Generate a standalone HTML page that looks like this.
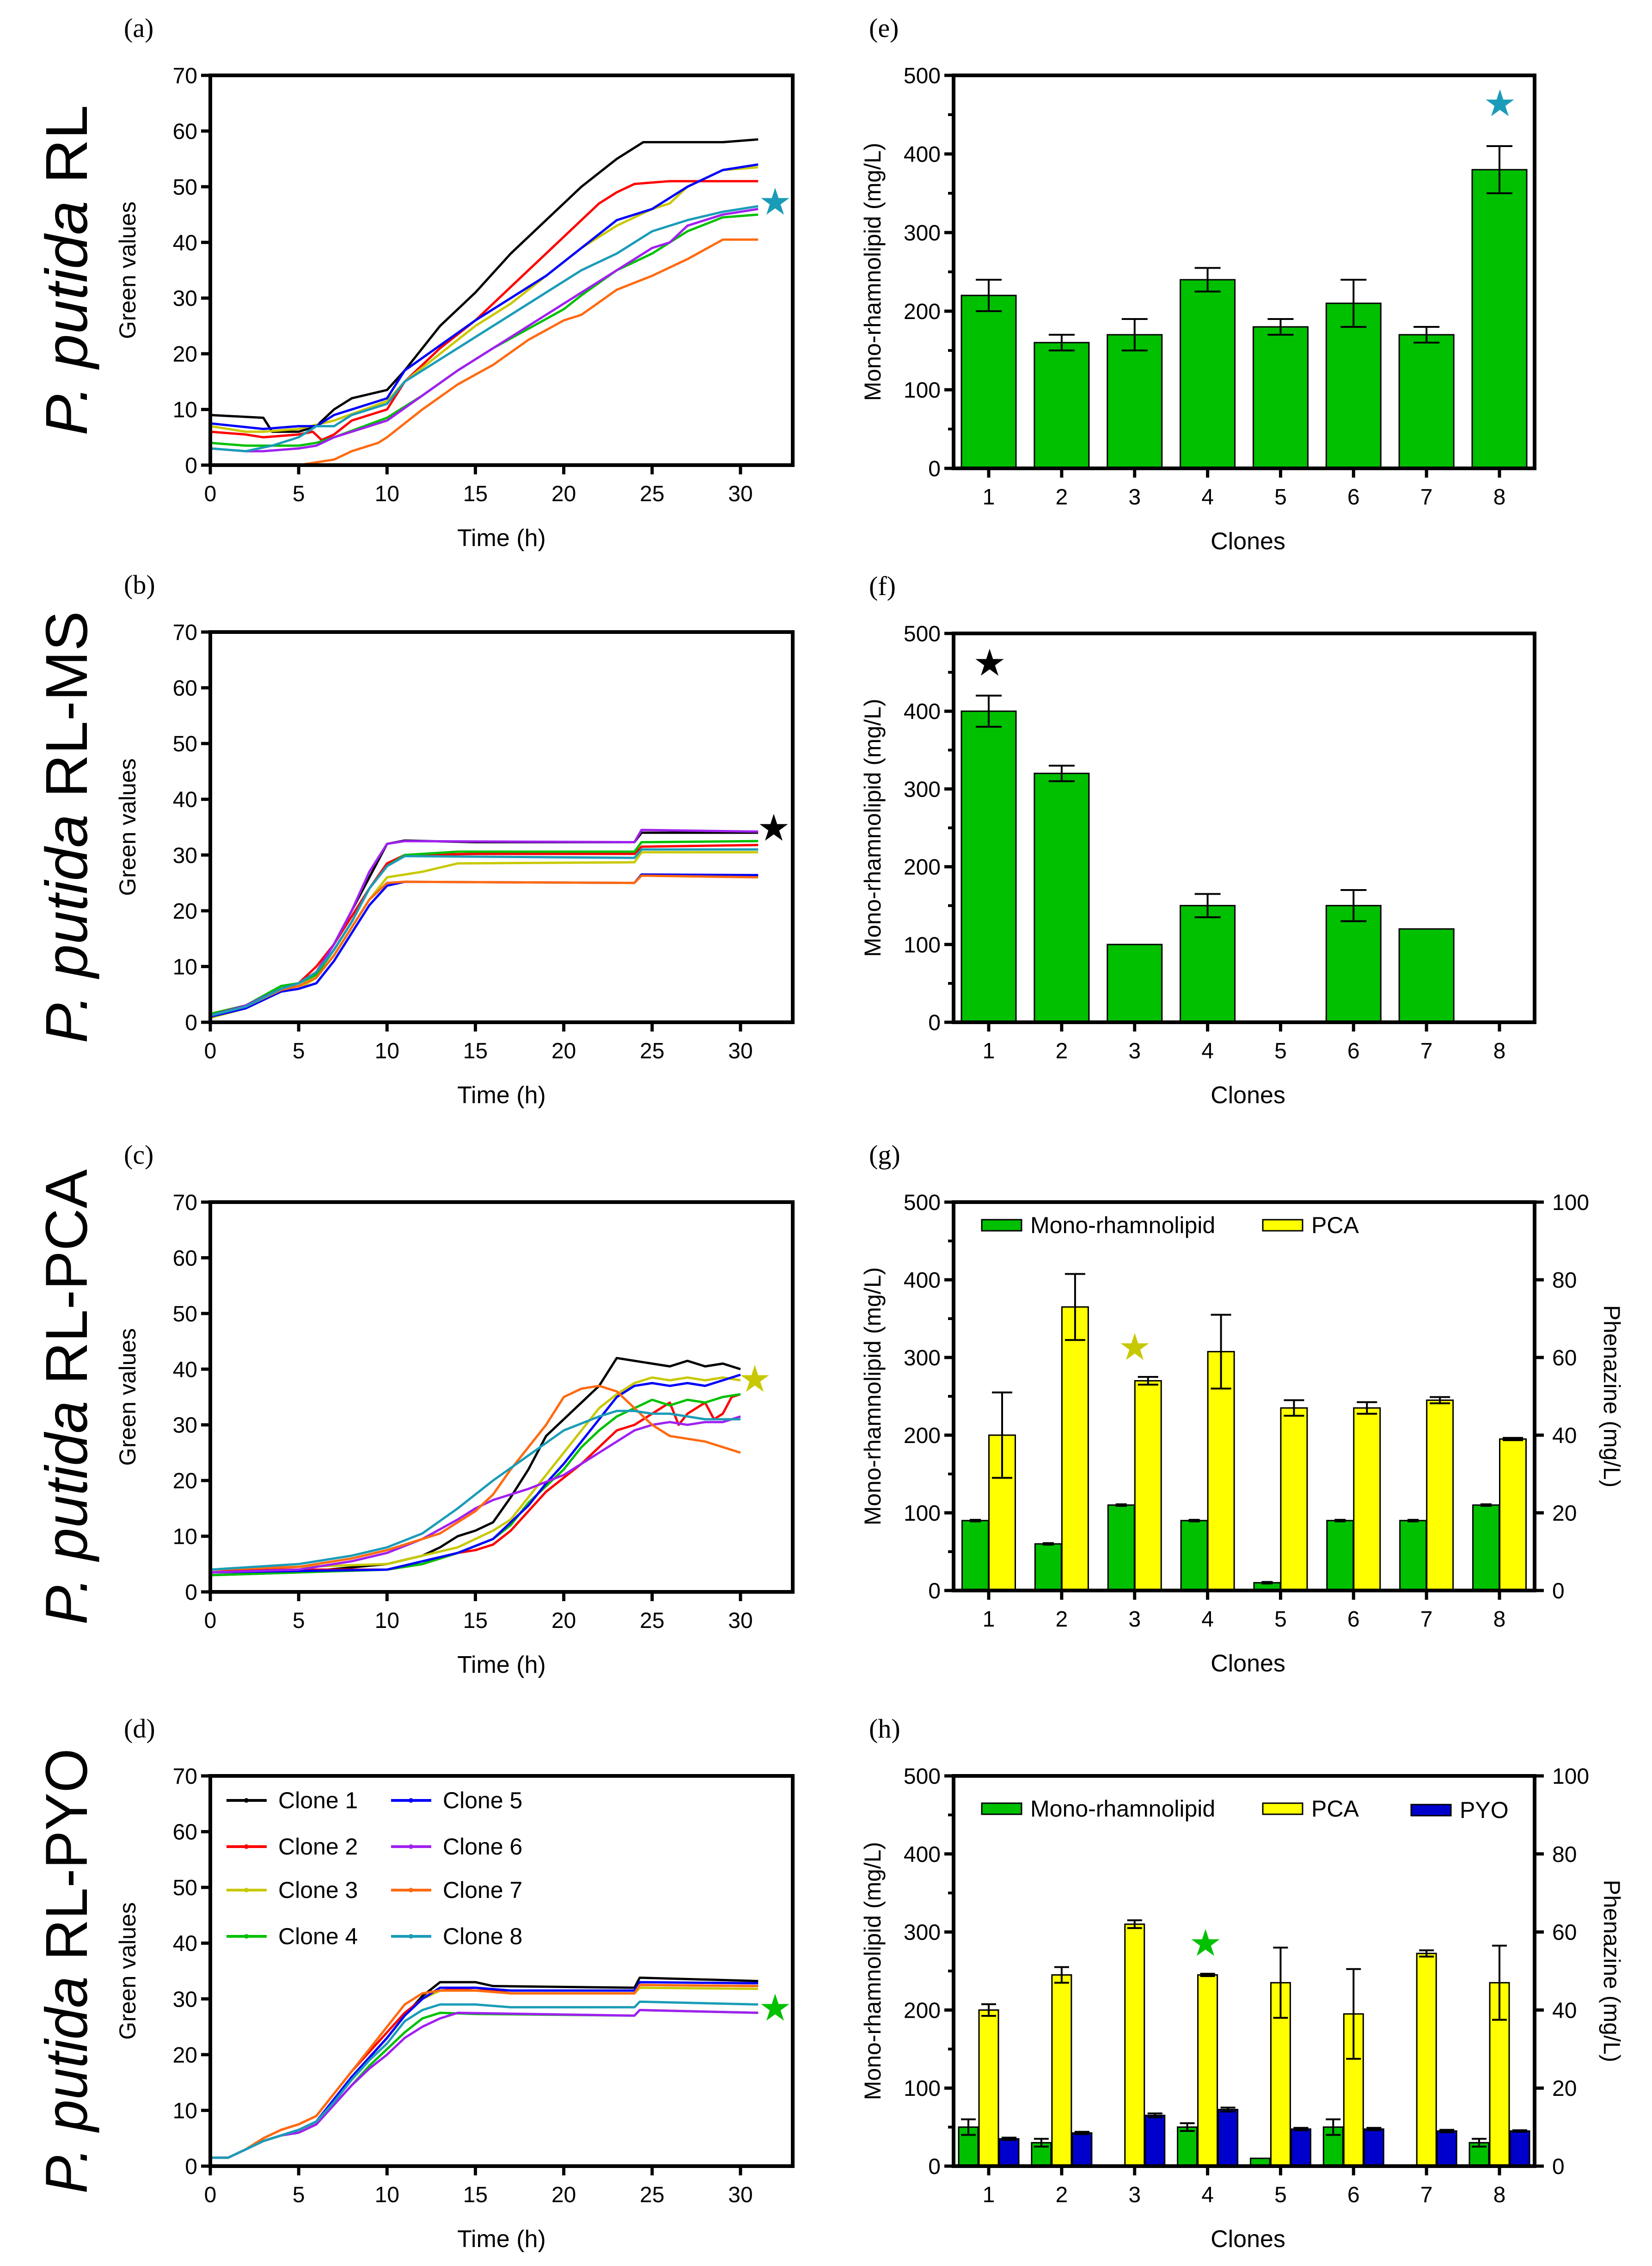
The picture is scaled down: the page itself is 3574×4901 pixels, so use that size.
<!DOCTYPE html>
<html><head><meta charset="utf-8"><style>
html,body{margin:0;padding:0;background:#fff;}
svg{display:block;font-family:"Liberation Sans",sans-serif;}
</style></head><body>
<svg id="fig" width="3574" height="4901" viewBox="0 0 3574 4901" xmlns="http://www.w3.org/2000/svg"></svg>
<script>
// ---------- DATA ----------
const cloneNames = ["Clone 1","Clone 2","Clone 3","Clone 4","Clone 5","Clone 6","Clone 7","Clone 8"];
const cloneColors = ["#000000","#ff0000","#c8c800","#00c000","#0000ff","#a020f0","#ff6a10","#1a9cb8"];
const timeTicks = [0,5,10,15,20,25,30];
const greenTicks = [0,10,20,30,40,50,60,70];
const clonesCats = [1,2,3,4,5,6,7,8];
const rhamTicks = [0,100,200,300,400,500];
const phenTicks = [0,20,40,60,80,100];

// panel a: [time, value] pairs per clone
const aC1=[[0,9],[3,8.5],[3.5,6],[5,6],[6,7],[7,10],[8,12],[10,13.5],[11,17],[13,25],[15,31],[17,38],[19,44],[21,50],[23,55],[24.5,58],[27,58],[29,58],[31,58.5]];
const aC2=[[0,6],[2,5.5],[3,5],[5,5.5],[5.8,6],[6.3,4.5],[7,5.5],[8,8],[10,10],[11,15],[13,21],[15,26],[17,32],[19,38],[21,44],[22,47],[23,49],[24,50.5],[26,51],[29,51],[31,51]];
const aC3=[[0,7],[2,6],[3,6],[5,6.5],[7,8],[10,11.5],[11,15],[13,20],[15,25],[17,29],[19,34],[21,39],[23,43],[25,46],[26,47],[27,50],[29,53],[31,53.5]];
const aC4=[[0,4],[2,3.5],[5,3.5],[6,4],[7,5],[10,8.5],[12,12.5],[14,17],[16,21],[18,24.5],[20,28],[21,30.5],[23,35],[25,38],[27,42],[29,44.5],[31,45]];
const aC5=[[0,7.5],[3,6.5],[5,7],[6,7],[7,9],[10,12],[11,17],[13,21.5],[15,26],[17,30],[19,34],[21,39],[23,44],[25,46],[27,50],[29,53],[31,54]];
const aC6=[[0,3],[2,2.5],[3,2.5],[5,3],[6,3.5],[7,5],[10,8],[12,12.5],[14,17],[16,21],[18,25],[20,29],[21,31],[23,35],[25,39],[26,40],[27,43],[29,45],[31,46]];
const aC7=[[0,0],[5,0],[6,0.5],[7,1],[8,2.5],[9.5,4],[10,5],[12,10],[14,14.5],[16,18],[18,22.5],[20,26],[21,27],[23,31.5],[25,34],[27,37],[29,40.5],[31,40.5]];
const aC8=[[0,3],[2,2.5],[3.5,3.5],[5,5],[6,7],[7,7],[8,9],[10,11],[11,15],[13,19],[15,23],[17,27],[19,31],[21,35],[23,38],[25,42],[27,44],[29,45.5],[31,46.5]];

// panel b
const bC1=[[0,1.5],[2,3],[4,6],[5,7],[6,9],[7,14],[8,20],[9,26],[10,32],[11,32.6],[15,32.3],[24,32.3],[24.4,34],[31,34]];
const bC2=[[0,1.5],[2,3],[4,6],[5,7],[6,10],[7,14],[8,19],[9,24],[10,28.5],[11,30],[15,30.2],[24,30.2],[24.4,31.5],[31,31.8]];
const bC3=[[0,0.8],[2,2.5],[4,5.5],[5,6],[6,8],[7,12],[8,17],[9,22],[10,26],[12,27],[14,28.5],[24,28.7],[24.4,30.5],[31,30.5]];
const bC4=[[0,1.5],[2,3],[4,6.5],[5,7],[6,8.5],[7,13],[8,18],[9,24],[10,28],[11,30],[14,30.6],[24,30.6],[24.4,32.3],[31,32.5]];
const bC5=[[0,1],[2,2.5],[4,5.5],[5,6],[6,7],[7,11],[8,16],[9,21],[10,24.5],[11,25.2],[24,25],[24.4,26.5],[31,26.4]];
const bC6=[[0,1.2],[2,3],[4,6],[5,7],[6,9],[7,14],[8,20],[9,27],[10,32],[11,32.5],[24,32.3],[24.4,34.5],[31,34.2]];
const bC7=[[0,1.2],[2,2.8],[4,5.8],[5,6.5],[6,8],[7,12],[8,17],[9,22],[10,25],[11,25.2],[24,25],[24.4,26.3],[31,26]];
const bC8=[[0,1.2],[2,2.8],[4,6],[5,7],[6,9],[7,13],[8,18],[9,24],[10,28],[11,29.8],[24,29.5],[24.4,31],[31,31]];

// panel c
const cC1=[[0,3],[5,3.5],[10,5],[12,6.5],[13,8],[14,10],[15,11],[16,12.5],[17,17],[18,22],[19,28],[20,31],[21,34],[22,37],[23,42],[24,41.5],[25,41],[26,40.5],[27,41.5],[28,40.5],[29,41],[30,40]];
const cC2=[[0,4],[5,4],[10,4],[12,5],[14,7],[15,7.5],[16,8.5],[17,11],[18,14.5],[19,18],[20,20.5],[21,23],[22,26],[23,29],[24,30],[25,32],[26,34],[26.5,30],[27,32],[28,34],[28.5,31],[29,32],[29.5,35],[30,35.5]];
const cC3=[[0,4],[10,5],[12,6.5],[14,8],[16,11],[17,13],[18,17],[19,21],[20,25],[21,29],[22,33],[23,35.5],[24,37.5],[25,38.5],[26,38],[27,38.5],[28,38],[29,38.5],[30,38]];
const cC4=[[0,3],[10,4],[12,5],[14,7],[16,9.5],[17,12],[18,16],[19,19],[20,22],[21,26],[22,29],[23,31.5],[24,33],[25,34.5],[26,33.5],[27,34.5],[28,34],[29,35],[30,35.5]];
const cC5=[[0,3.5],[10,4],[12,5.5],[14,7],[16,9.5],[17,12.5],[18,15.5],[19,19.5],[20,23],[21,27],[22,31],[23,35],[24,37],[25,37.5],[26,37],[27,37.5],[28,37],[29,38],[30,39]];
const cC6=[[0,3.5],[5,4],[8,5.5],[10,7],[12,9.5],[14,13],[15,15],[16,16.5],[18,18.5],[20,21],[22,25],[24,29],[25,30],[26,30.5],[27,30],[28,30.5],[29,30.5],[30,31.5]];
const cC7=[[0,4],[5,4.5],[8,6],[10,7.5],[12,9.5],[13,10.5],[15,14.5],[16,17.5],[17,22],[18,26],[19,30],[20,35],[21,36.5],[22,37],[23,36],[24,33],[25,30],[26,28],[27,27.5],[28,27],[29,26],[30,25]];
const cC8=[[0,4],[5,5],[8,6.5],[10,8],[12,10.5],[14,15],[16,20],[18,24.5],[20,29],[22,31.5],[23,32.5],[24,32.5],[25,32],[26,32],[27,31.5],[28,31],[29,31],[30,31]];

// panel d
const dC1=[[0,1.5],[1,1.5],[2,3],[3,4.5],[4,5.5],[5,6.5],[6,8],[7,12],[8,16],[9,19.5],[10,23],[11,27],[12,30.5],[13,33],[15,33],[16,32.3],[24,32],[24.3,33.8],[31,33.2]];
const dC2=[[0,1.5],[1,1.5],[2,3],[3,5],[4,6.5],[5,7.5],[6,9],[7,13],[8,17],[9,20.5],[10,24],[11,27.5],[12,30],[13,31.5],[15,32],[17,31],[24,31],[24.3,32.5],[31,32.3]];
const dC3=[[0,1.5],[1,1.5],[2,3],[3,4.5],[4,5.5],[5,6.5],[6,8],[7,12],[8,16],[9,19.5],[10,23],[11,27],[12,30],[13,31.5],[15,31.5],[17,31],[24,31],[24.3,32],[31,31.8]];
const dC4=[[0,1.5],[1,1.5],[2,3],[3,4.5],[4,5.5],[5,6],[6,7.5],[7,11],[8,14.5],[9,18],[10,21],[11,24],[12,26.5],[13,27.5],[15,27.3],[24,27],[24.3,28],[31,27.5]];
const dC5=[[0,1.5],[1,1.5],[2,3],[3,4.5],[4,5.5],[5,6.5],[6,8],[7,12],[8,16],[9,19.5],[10,23],[11,27],[12,30],[13,32],[15,32],[17,31.5],[24,31.5],[24.3,33],[31,32.8]];
const dC6=[[0,1.5],[1,1.5],[2,3],[3,4.5],[4,5.5],[5,6],[6,7.5],[7,11],[8,14.5],[9,17.5],[10,20],[11,23],[12,25],[13,26.5],[14,27.5],[24,27],[24.3,28],[31,27.5]];
const dC7=[[0,1.5],[1,1.5],[2,3],[3,5],[4,6.5],[5,7.5],[6,9],[7,13],[8,17],[9,21],[10,25],[11,29],[12,31],[13,31.5],[15,31.5],[17,31],[24,31],[24.3,32.5],[31,32.3]];
const dC8=[[0,1.5],[1,1.5],[2,3],[3,4.5],[4,5.5],[5,6.5],[6,8],[7,11.5],[8,15.5],[9,19],[10,22],[11,26],[12,28],[13,29],[15,29],[17,28.5],[24,28.5],[24.3,29.5],[31,29]];

// bars
const eRham=[220,160,170,240,180,210,170,380];
const eErr=[20,10,20,15,10,30,10,30];
const fRham=[400,320,100,150,0,150,120,0];
const fErr=[20,10,0,15,0,20,0,0];
const gRham=[90,60,110,90,10,90,90,110];
const gRhamErr=[1,1,1,1,1,1,1,1];
const gPCA=[40,73,54,61.5,47,47,49,39];
const gPCAErr=[11,8.5,1,9.5,2,1.5,0.8,0.3];
const hRham=[50,30,0,50,10,50,0,30];
const hRhamErr=[10,5,0,5,0,10,0,5];
const hPCA=[40,49,62,49,47,39,54.5,47];
const hPCAErr=[1.5,2,1,0.3,9,11.5,0.8,9.5];
const hPYO=[7,8.5,13,14.5,9.5,9.5,9,9];
const hPYOErr=[0.3,0.3,0.5,0.5,0.3,0.3,0.3,0.2];

// ---------- DRAW ----------
const NS="http://www.w3.org/2000/svg";
const svg=document.getElementById("fig");
function mk(tag,attrs,parent,text){const e=document.createElementNS(NS,tag);for(const k in attrs)e.setAttribute(k,attrs[k]);if(text!==undefined)e.textContent=text;(parent||svg).appendChild(e);return e;}

const LX0=455, LX1=1715, XPERH=(1602-455)/30;
const RX0=2063, RX1=3320, RC1=2139, RSTEP=(3244-2139)/7;

function linePanel(id,top,bot,series,label,bigText,bigLen,star,starColor){
  const g=mk("g",{},svg);
  
  
  const xs=t=>LX0+t*XPERH;
  const ys=v=>bot-(v/70)*(bot-top);
  const pl=mk("text",{x:268,y:top-83,"font-family":"Liberation Serif,serif","font-size":58},g,label);
  
  
  const cy=(top+bot)/2;
  const bt=mk("text",{x:0,y:0,transform:`translate(188,${cy}) rotate(-90)`,"text-anchor":"middle","font-size":128,textLength:bigLen,lengthAdjust:"spacingAndGlyphs"},g);
  const it=mk("tspan",{"font-style":"italic"},bt,"P. putida");
  mk("tspan",{},bt," "+bigText);
  
  
  const yt=mk("text",{transform:`translate(293,${cy}) rotate(-90)`,"text-anchor":"middle","font-size":50},g,"Green values");
  
  
  greenTicks.forEach(v=>{
    const l=mk("line",{x1:LX0-20,x2:LX0,y1:ys(v),y2:ys(v),stroke:"#000","stroke-width":7},g);
    
    
    const t=mk("text",{x:LX0-28,y:ys(v)+17,"text-anchor":"end","font-size":48},g,String(v));
    
    
  });
  timeTicks.forEach(v=>{
    const l=mk("line",{x1:xs(v),x2:xs(v),y1:bot,y2:bot+20,stroke:"#000","stroke-width":7},g);
    
    
    const t=mk("text",{x:xs(v),y:bot+78,"text-anchor":"middle","font-size":48},g,String(v));
    
    
  });
  const xt=mk("text",{x:1085,y:bot+175,"text-anchor":"middle","font-size":52},g,"Time (h)");
  
  
  series.forEach((s,i)=>{
    const p=mk("polyline",{points:s.map(d=>xs(d[0])+","+ys(d[1])).join(" "),fill:"none",stroke:cloneColors[i],"stroke-width":5,"stroke-linejoin":"round"},g);
    
    
  });
  const fr=mk("rect",{x:LX0,y:top,width:LX1-LX0,height:bot-top,fill:"none",stroke:"#000","stroke-width":8},g);
  
  
  const st=mk("text",{x:star[0],y:star[1]+25,"text-anchor":"middle","font-size":80,fill:starColor,"font-family":"DejaVu Sans,sans-serif"},g,"★");
  
  
  return g;
}

function barPanel(id,top,bot,label,groups,rightAxis,legend,star,starColor){
  const g=mk("g",{},svg);
  
  
  const ys=v=>bot-(v/500)*(bot-top);
  const yr=v=>bot-(v/100)*(bot-top);
  const xc=i=>RC1+i*RSTEP;
  const pl=mk("text",{x:1880,y:top-83,"font-family":"Liberation Serif,serif","font-size":58},g,label);
  
  
  const cy=(top+bot)/2;
  const yt=mk("text",{transform:`translate(1905,${cy}) rotate(-90)`,"text-anchor":"middle","font-size":50},g,"Mono-rhamnolipid (mg/L)");
  
  
  rhamTicks.forEach(v=>{
    const l=mk("line",{x1:RX0-20,x2:RX0,y1:ys(v),y2:ys(v),stroke:"#000","stroke-width":7},g);
    
    
    if(v<500){const m=mk("line",{x1:RX0-12,x2:RX0,y1:ys(v+50),y2:ys(v+50),stroke:"#000","stroke-width":6},g);
    
    }
    const t=mk("text",{x:RX0-28,y:ys(v)+17,"text-anchor":"end","font-size":48},g,String(v));
    
    
  });
  if(rightAxis){
    phenTicks.forEach(v=>{
      const l=mk("line",{x1:RX1,x2:RX1+20,y1:yr(v),y2:yr(v),stroke:"#000","stroke-width":7},g);
      
      
      const t=mk("text",{x:RX1+38,y:yr(v)+17,"font-size":48},g,String(v));
      
      
    });
    const rt=mk("text",{transform:`translate(3470,${cy}) rotate(90)`,"text-anchor":"middle","font-size":50},g,"Phenazine (mg/L)");
    
    
  }
  clonesCats.forEach((c,i)=>{
    const l=mk("line",{x1:xc(i),x2:xc(i),y1:bot,y2:bot+20,stroke:"#000","stroke-width":7},g);
    
    
    const t=mk("text",{x:xc(i),y:bot+78,"text-anchor":"middle","font-size":48},g,String(c));
    
    
  });
  const xt=mk("text",{x:2700,y:bot+175,"text-anchor":"middle","font-size":52},g,"Clones");
  
  
  groups.forEach(gr=>{
    gr.vals.forEach((v,i)=>{
      const sc=gr.right?yr:ys;
      const cx=xc(i)+gr.off;
      if(v>0){
        const r=mk("rect",{x:cx-gr.w/2,y:sc(v),width:gr.w,height:bot-sc(v),fill:gr.color,stroke:"#000","stroke-width":3},g);
        
        
      }
      const e=gr.err[i];
      if(e>0&&v>0){
        const eb=mk("path",{d:`M${cx},${sc(v-e)}V${sc(v+e)}M${cx-gr.cap},${sc(v+e)}H${cx+gr.cap}M${cx-gr.cap},${sc(v-e)}H${cx+gr.cap}`,stroke:"#000","stroke-width":4,fill:"none"},g);
        
        
      }
    });
  });
  const fr=mk("rect",{x:RX0,y:top,width:RX1-RX0,height:bot-top,fill:"none",stroke:"#000","stroke-width":8},g);
  
  
  if(legend){
    legend.forEach(L=>{
      const r=mk("rect",{x:L.x,y:L.y-12,width:86,height:24,fill:L.color,stroke:"#000","stroke-width":3},g);
      
      
      const t=mk("text",{x:L.x+105,y:L.y+17,"font-size":50},g,L.text);
      
      
    });
  }
  const st=mk("text",{x:star[0],y:star[1]+25,"text-anchor":"middle","font-size":80,fill:starColor,"font-family":"DejaVu Sans,sans-serif"},g,"★");
  
  
}

linePanel("a",163,1006,[aC1,aC2,aC3,aC4,aC5,aC6,aC7,aC8],"(a)","RL",715,[1677,439],"#1a9cb8");
linePanel("b",1367,2211,[bC1,bC2,bC3,bC4,bC5,bC6,bC7,bC8],"(b)","RL-MS",935,[1674,1793],"#000");
linePanel("c",2600,3443,[cC1,cC2,cC3,cC4,cC5,cC6,cC7,cC8],"(c)","RL-PCA",985,[1633,2985],"#c8c800");
linePanel("d",3841,4685,[dC1,dC2,dC3,dC4,dC5,dC6,dC7,dC8],"(d)","RL-PYO",963,[1677,4345],"#00c000");

// legend in d
const legX=[490,846], legY=[3894,3994,4088,4188];
cloneNames.forEach((n,i)=>{
  const col=Math.floor(i/4), row=i%4;
  const x=legX[col], y=legY[row];
  const l=mk("line",{x1:x,x2:x+87,y1:y,y2:y,stroke:cloneColors[i],"stroke-width":6});
  
  
  const c=mk("circle",{cx:x+43,cy:y,r:5,fill:cloneColors[i]});
  
  
  const t=mk("text",{x:x+112,y:y+17,"font-size":50},svg,n);
  
  
});

const GREEN="#00c000", YEL="#ffff00", BLUE="#0000cc";
barPanel("e",163,1013,"(e)",[{name:"rhamnolipid",vals:eRham,err:eErr,off:0,w:118,color:GREEN,cap:28}],false,null,[3245,226],"#1a9cb8");
barPanel("f",1370,2211,"(f)",[{name:"rhamnolipid",vals:fRham,err:fErr,off:0,w:118,color:GREEN,cap:28}],false,null,[2141,1436],"#000");
barPanel("g",2600,3440,"(g)",[
  {name:"rhamnolipid",vals:gRham,err:gRhamErr,off:-29,w:57,color:GREEN,cap:12},
  {name:"pca",vals:gPCA,err:gPCAErr,off:29,w:57,color:YEL,cap:22,right:true}],true,
  [{key:"rhamnolipid",x:2124,y:2650,color:GREEN,text:"Mono-rhamnolipid"},{key:"pca",x:2732,y:2650,color:YEL,text:"PCA"}],[2455,2916],"#c8c800");
barPanel("h",3841,4685,"(h)",[
  {name:"rhamnolipid",vals:hRham,err:hRhamErr,off:-44,w:42,color:GREEN,cap:16},
  {name:"pca",vals:hPCA,err:hPCAErr,off:0,w:42,color:YEL,cap:16,right:true},
  {name:"pyo",vals:hPYO,err:hPYOErr,off:44,w:42,color:BLUE,cap:16,right:true}],true,
  [{key:"rhamnolipid",x:2124,y:3912,color:GREEN,text:"Mono-rhamnolipid"},{key:"pca",x:2732,y:3912,color:YEL,text:"PCA"},{key:"pyo",x:3053,y:3915,color:BLUE,text:"PYO"}],[2608,4205],"#00c000");
</script>
</body></html>
